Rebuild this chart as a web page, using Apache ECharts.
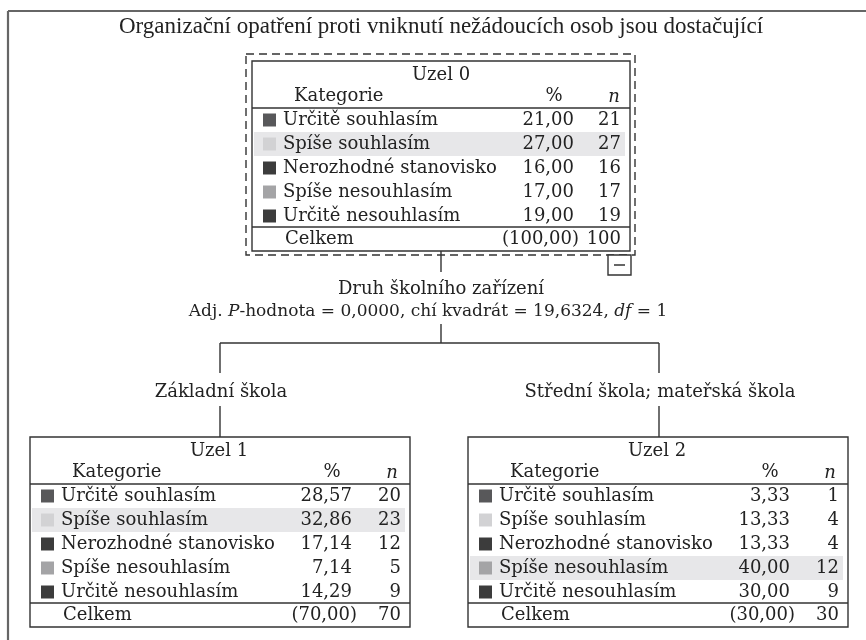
<!DOCTYPE html>
<html><head><meta charset="utf-8">
<script src="https://cdn.jsdelivr.net/npm/echarts@6/dist/echarts.min.js"></script>
<style>html,body{margin:0;padding:0;background:#fff}#c{width:866px;height:640px}</style>
</head><body><div id="c"></div>
<script>
// ---------- data ----------
const chartTitle = 'Organizační opatření proti vniknutí nežádoucích osob jsou dostačující';
const categories = ['Určitě souhlasím', 'Spíše souhlasím', 'Nerozhodné stanovisko', 'Spíše nesouhlasím', 'Určitě nesouhlasím'];
const nodeNames = ['Uzel 0', 'Uzel 1', 'Uzel 2'];
const node0Pct = [21.00, 27.00, 16.00, 17.00, 19.00];
const node0N = [21, 27, 16, 17, 19];
const node1Pct = [28.57, 32.86, 17.14, 7.14, 14.29];
const node1N = [20, 23, 12, 5, 9];
const node2Pct = [3.33, 13.33, 13.33, 40.00, 30.00];
const node2N = [1, 4, 4, 12, 9];
const totalPct = [100.00, 70.00, 30.00];
const totalN = [100, 70, 30];
const splitVariable = 'Druh školního zařízení';
const adjP = '0,0000';
const chiSquare = '19,6324';
const dfValue = '1';
const branchLabels = ['Základní škola', 'Střední škola; mateřská škola'];

// ---------- styles ----------
const FONT = 'DejaVu Serif';
const FS = 18;
const TXT = '#222';
const LINE = '#333';
const HILITE = '#e7e7e9';
const catColors = ['#58585a', '#d2d2d4', '#3c3c3c', '#a4a4a6', '#3c3c3c'];

const fmt = v => v.toFixed(2).replace('.', ',');
const els = [];
function txt(x, y, s, align, extra) {
  els.push({type: 'text', x: x, y: y, z: 10, style: Object.assign({text: s, fill: TXT, font: FS + 'px "' + FONT + '"', align: align || 'left', verticalAlign: 'middle'}, extra || {})});
}
function line(x1, y1, x2, y2, opt, z) {
  els.push({type: 'line', z: z || 5, shape: {x1: x1, y1: y1, x2: x2, y2: y2}, style: Object.assign({stroke: LINE, lineWidth: 1.4}, opt || {})});
}
function rect(x, y, w, h, style, z) {
  els.push({type: 'rect', z: z || 5, shape: {x: x, y: y, width: w, height: h}, style: style});
}

function drawNode(x0, y0, W, k, pct, n) {
  const H = 190;
  let hi = 0;
  pct.forEach((v, i) => { if (v > pct[hi]) hi = i; });
  const rowY = i => y0 + 59 + 24 * i;
  rect(x0 + 2, rowY(hi) - 12, W - 7, 24, {fill: HILITE}, 1);
  rect(x0, y0, W, H, {fill: 'none', stroke: LINE, lineWidth: 1.4}, 6);
  txt(x0 + 189, y0 + 14, nodeNames[k], 'center');
  txt(x0 + 42, y0 + 35, 'Kategorie', 'left');
  txt(x0 + 302, y0 + 35, '%', 'center');
  txt(x0 + 362, y0 + 36, 'n', 'center', {font: 'italic ' + FS + 'px "' + FONT + '"'});
  line(x0, y0 + 47, x0 + W, y0 + 47);
  categories.forEach((c, i) => {
    const y = rowY(i);
    rect(x0 + 11, y - 6.5, 13, 13, {fill: catColors[i]}, 4);
    txt(x0 + 31, y, c, 'left');
    txt(x0 + 322, y, fmt(pct[i]), 'right');
    txt(x0 + W - 9, y, String(n[i]), 'right');
  });
  line(x0, y0 + 166, x0 + W, y0 + 166);
  txt(x0 + 33, y0 + 178, 'Celkem', 'left');
  txt(x0 + 327, y0 + 178, '(' + fmt(totalPct[k]) + ')', 'right');
  txt(x0 + W - 9, y0 + 178, String(totalN[k]), 'right');
}

// outer frame
line(8, 11, 866, 11, {stroke: '#666', lineWidth: 2.2});
line(8, 11, 8, 640, {stroke: '#666', lineWidth: 2.2});
// title
txt(441, 27, chartTitle, 'center', {font: '23px "Liberation Serif"'});
// dashed selection box around root
rect(246, 54, 389, 201, {fill: 'none', stroke: LINE, lineWidth: 1.4, lineDash: [8, 5]}, 6);
drawNode(252, 61, 378, 0, node0Pct, node0N);
// collapse box
rect(608, 255, 23, 20, {fill: '#fff', stroke: LINE, lineWidth: 1.4}, 7);
line(614, 265, 625, 265, {lineWidth: 1.5}, 8);
// connectors
line(441, 251, 441, 272);
txt(441, 289, splitVariable, 'center');
els.push({type: 'text', x: 428, y: 312, z: 10, style: {
  text: '{n|Adj. }{i|P}{n|-hodnota = ' + adjP + ', chí kvadrát = ' + chiSquare + ', }{i|df}{n| = ' + dfValue + '}',
  align: 'center', verticalAlign: 'middle', fill: TXT,
  rich: {n: {fontFamily: FONT, fontSize: 17, fill: TXT}, i: {fontFamily: FONT, fontSize: 17, fontStyle: 'italic', fill: TXT}}
}});
line(441, 324, 441, 343);
line(220, 343, 659, 343);
line(220, 343, 220, 373);
line(659, 343, 659, 373);
txt(221, 392, branchLabels[0], 'center');
txt(660, 392, branchLabels[1], 'center');
line(220, 406, 220, 437);
line(659, 406, 659, 437);
drawNode(30, 437, 380, 1, node1Pct, node1N);
drawNode(468, 437, 380, 2, node2Pct, node2N);

const chart = echarts.init(document.getElementById('c'), null, {renderer: 'canvas'});
chart.setOption({animation: false, backgroundColor: '#fff', graphic: {elements: els}});
</script></body></html>
